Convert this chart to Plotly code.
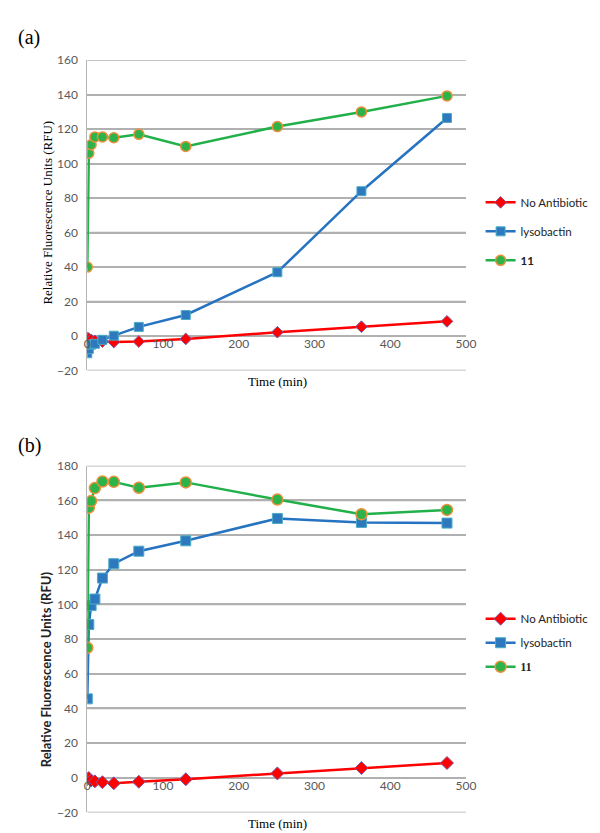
import plotly.graph_objects as go

# ---------------- data ----------------
time_min = [0, 2, 5, 10, 20, 35, 68, 130, 251, 362, 475]

# panel (a)
no_antibiotic_a = [-1.0, -1.5, -2.2, -2.8, -3.2, -3.5, -3.2, -1.7, 2.2, 5.4, 8.5]
lysobactin_a = [-10.0, -7.5, -5.0, -4.5, -2.2, 0.2, 5.3, 12.2, 37.0, 84.0, 126.5]
compound11_a = [40.0, 106.0, 111.0, 115.5, 115.5, 115.0, 117.0, 110.0, 121.5, 130.0, 139.3]

# panel (b)
no_antibiotic_b = [-0.8, -0.2, -1.6, -2.1, -2.6, -3.2, -2.3, -0.9, 2.5, 5.6, 8.5]
lysobactin_b = [45.5, 88.4, 99.3, 103.1, 115.2, 123.5, 130.7, 136.7, 149.6, 147.3, 146.9]
compound11_b = [75.0, 155.8, 159.6, 167.1, 170.9, 170.7, 167.3, 170.4, 160.5, 152.0, 154.5]

series_names = ["No Antibiotic", "lysobactin", "11"]
x_ticks = [0, 100, 200, 300, 400, 500]
y_ticks_a = [-20, 0, 20, 40, 60, 80, 100, 120, 140, 160]
y_ticks_b = [-20, 0, 20, 40, 60, 80, 100, 120, 140, 160, 180]

# ---------------- layout geometry ----------------
W, H = 600, 833
def px_x(p):
    return p / W
def px_y(p):
    return 1 - p / H

x_dom = [px_x(78), px_x(465)]
y_dom_a = [px_y(361), px_y(45)]
y_dom_b = [px_y(811), px_y(458)]

RED = "#FF0000"
BLUE = "#2673C2"
GREEN = "#22B04B"
GRID = "#B0B0B0"
TICKFONT = dict(family="Lato, 'Open Sans', sans-serif", size=12, color="#595959")
SERIF = "'Liberation Serif', 'DejaVu Serif', serif"
SANS = "Lato, 'Open Sans', sans-serif"

fig = go.Figure()

def add_panel(xa, ya, legend, red, blue, green, msize, name11):
    fig.add_trace(go.Scatter(
        x=time_min, y=red, name=series_names[0], mode="lines+markers",
        xaxis=xa, yaxis=ya, legend=legend, legendgroup=legend + "r",
        line=dict(color=RED, width=2.5),
        marker=dict(symbol="diamond", size=msize, color=RED,
                    line=dict(color="#7B5BA6", width=1))))
    fig.add_trace(go.Scatter(
        x=time_min, y=blue, name=series_names[1], mode="lines+markers",
        xaxis=xa, yaxis=ya, legend=legend, legendgroup=legend + "b",
        line=dict(color=BLUE, width=2.5),
        marker=dict(symbol="square", size=msize, color="#2E78BE",
                    line=dict(color="#4BACC6", width=1))))
    fig.add_trace(go.Scatter(
        x=time_min, y=green, name=name11, mode="lines+markers",
        xaxis=xa, yaxis=ya, legend=legend, legendgroup=legend + "g",
        line=dict(color=GREEN, width=2.5),
        marker=dict(symbol="circle", size=msize + 1, color="#2DB34A",
                    line=dict(color="#E8913A", width=1.5))))

add_panel("x", "y", "legend", no_antibiotic_a, lysobactin_a, compound11_a, 9, "<b>11</b>")
add_panel("x2", "y2", "legend2", no_antibiotic_b, lysobactin_b, compound11_b, 10,
          "<span style='font-family:Liberation Serif'><b>11</b></span>")

# x tick labels sit on the y=0 line (Excel style): shift them up from the bottom edge
def xaxis(dom, yticks, ydom_px, anchor_y):
    yrng = [yticks[0], yticks[-1]]
    zero_px = (0 - yrng[0]) / (yrng[1] - yrng[0]) * (ydom_px[1] - ydom_px[0])
    return dict(domain=dom, range=[0, 500], tickvals=x_ticks, showgrid=False,
                zeroline=False, showline=False, ticks="", tickfont=TICKFONT,
                anchor=anchor_y, ticklabelstandoff=-int(round(zero_px)),
                fixedrange=True)

def yaxis(dom, yticks, anchor_x):
    return dict(domain=dom, range=[yticks[0], yticks[-1]], tickvals=yticks,
                showgrid=True, gridcolor=GRID, gridwidth=1.5,
                zeroline=False, showline=True, linecolor="#B4B4B4",
                linewidth=1, ticks="outside", ticklen=6, tickcolor="rgba(0,0,0,0)",
                tickfont=TICKFONT, anchor=anchor_x)

# horizontal gridlines at the tick values, spanning each plot's width
shapes = []
for yref, xref, ticks in (("y", "x domain", y_ticks_a), ("y2", "x2 domain", y_ticks_b)):
    for v in ticks:
        shapes.append(dict(type="line", xref=xref, yref=yref, x0=0, x1=1, y0=v, y1=v,
                           line=dict(color=GRID, width=1.5), layer="below"))

fig.update_layout(
    width=W, height=H, margin=dict(l=0, r=0, t=0, b=0),
    paper_bgcolor="white", plot_bgcolor="rgba(0,0,0,0)",
    xaxis=xaxis(x_dom, y_ticks_a, [0, 361 - 45], "y"),
    yaxis=yaxis(y_dom_a, y_ticks_a, "x"),
    xaxis2=xaxis(x_dom, y_ticks_b, [0, 811 - 458], "y2"),
    yaxis2=yaxis(y_dom_b, y_ticks_b, "x2"),
    shapes=shapes,
    legend=dict(x=px_x(480), y=px_y(175), xanchor="left", yanchor="top",
                font=dict(family=SANS, size=11.5, color="#222222"),
                tracegroupgap=10, bgcolor="rgba(0,0,0,0)", itemwidth=30),
    legend2=dict(x=px_x(480), y=px_y(599), xanchor="left", yanchor="top",
                 font=dict(family=SANS, size=11.5, color="#222222"),
                 tracegroupgap=5, bgcolor="rgba(0,0,0,0)", itemwidth=30),
    annotations=[
        dict(text="(a)", x=px_x(5), y=px_y(22), xref="paper", yref="paper",
             xanchor="left", yanchor="middle", showarrow=False,
             font=dict(family=SERIF, size=20, color="black")),
        dict(text="(b)", x=px_x(5), y=px_y(437), xref="paper", yref="paper",
             xanchor="left", yanchor="middle", showarrow=False,
             font=dict(family=SERIF, size=20, color="black")),
        dict(text="Time (min)", x=px_x(272), y=px_y(372), xref="paper", yref="paper",
             xanchor="center", yanchor="middle", showarrow=False,
             font=dict(family=SERIF, size=13, color="black")),
        dict(text="Time (min)", x=px_x(272), y=px_y(822), xref="paper", yref="paper",
             xanchor="center", yanchor="middle", showarrow=False,
             font=dict(family=SERIF, size=13, color="black")),
        dict(text="Relative Fluorescence Units (RFU)", x=px_x(37), y=px_y(200),
             xref="paper", yref="paper", xanchor="center", yanchor="middle",
             textangle=-90, showarrow=False,
             font=dict(family=SERIF, size=13, color="black")),
        dict(text="<b>Relative Fluorescence Units (RFU)</b>", x=px_x(36), y=px_y(665),
             xref="paper", yref="paper", xanchor="center", yanchor="middle",
             textangle=-90, showarrow=False,
             font=dict(family=SANS, size=13, color="#222222")),
    ],
)

fig.write_html("out.html")
